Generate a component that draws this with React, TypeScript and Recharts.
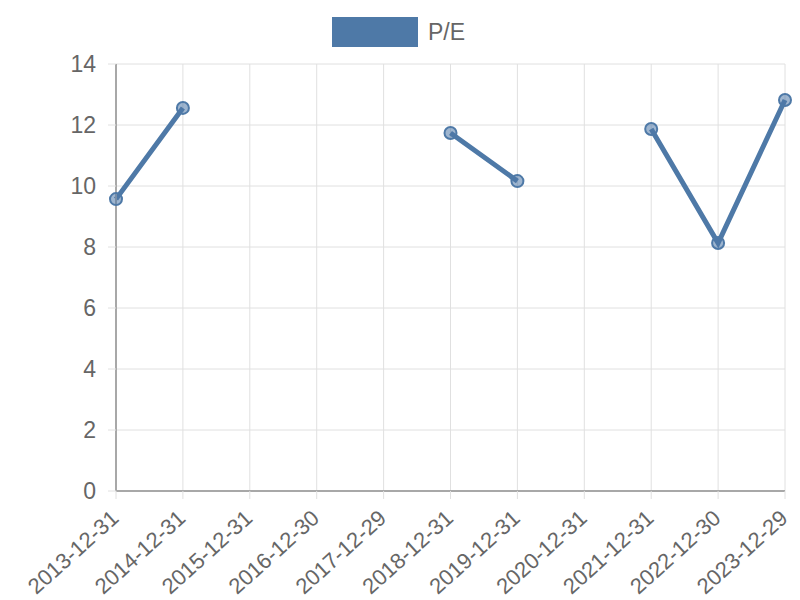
import React from "react";
import {
  CartesianGrid,
  Legend,
  Line,
  LineChart,
  XAxis,
  YAxis,
} from "recharts";

const dates = [
  "2013-12-31",
  "2014-12-31",
  "2015-12-31",
  "2016-12-30",
  "2017-12-29",
  "2018-12-31",
  "2019-12-31",
  "2020-12-31",
  "2021-12-31",
  "2022-12-30",
  "2023-12-29",
];
const peValues: (number | null)[] = [
  9.57, 12.56, null, null, null, 11.74, 10.16, null, 11.87, 8.13, 12.82,
];
const yTicks = [0, 2, 4, 6, 8, 10, 12, 14];

const data = dates.map((date, i) => ({ date, pe: peValues[i] }));

const fontFamily = "'Liberation Sans', Arial, sans-serif";
const fontColor = "#666";
const fontSize = 23;
const lineColor = "#4e79a7";
const gridColor = "#e0e0e0";
const axisColor = "#a8a8a8";

const DateTick = (props: any) => {
  const { x, y, payload } = props;
  return (
    <g transform={`translate(${x + 4},${y + 19})`}>
      <text
        transform="rotate(-42)"
        textAnchor="end"
        fill={fontColor}
        fontFamily={fontFamily}
        fontSize={22}
      >
        {payload.value}
      </text>
    </g>
  );
};

const LegendBox = () => (
  <div
    style={{
      height: 50,
      display: "flex",
      justifyContent: "center",
      alignItems: "flex-start",
      paddingTop: 3,
      paddingLeft: 12,
      boxSizing: "border-box",
    }}
  >
    <span
      style={{
        display: "inline-block",
        width: 86,
        height: 30,
        background: lineColor,
        marginRight: 10,
      }}
    />
    <span
      style={{ fontFamily, fontSize, color: fontColor, lineHeight: "30px" }}
    >
      P/E
    </span>
  </div>
);

export default function App() {
  return (
    <div style={{ position: "absolute", left: 0, top: 0, background: "#fff" }}>
      <LineChart
        width={800}
        height={600}
        data={data}
        margin={{ top: 14, right: 15, bottom: 0, left: 0 }}
      >
        <Legend verticalAlign="top" content={<LegendBox />} />
        <CartesianGrid stroke={gridColor} strokeWidth={1} />
        <XAxis
          dataKey="date"
          interval={0}
          height={109}
          tick={<DateTick />}
          tickSize={8}
          tickLine={{ stroke: gridColor }}
          axisLine={{ stroke: axisColor, strokeWidth: 2 }}
        />
        <YAxis
          width={116}
          domain={[0, 14]}
          ticks={yTicks}
          tickSize={8}
          tickMargin={12}
          tick={{ fill: fontColor, fontFamily, fontSize }}
          tickLine={{ stroke: gridColor }}
          axisLine={{ stroke: axisColor, strokeWidth: 2 }}
        />
        <Line
          type="linear"
          dataKey="pe"
          stroke={lineColor}
          strokeWidth={5}
          dot={{
            r: 6,
            fill: "rgba(78,121,167,0.55)",
            stroke: lineColor,
            strokeWidth: 2,
          }}
          isAnimationActive={false}
        />
      </LineChart>
    </div>
  );
}
